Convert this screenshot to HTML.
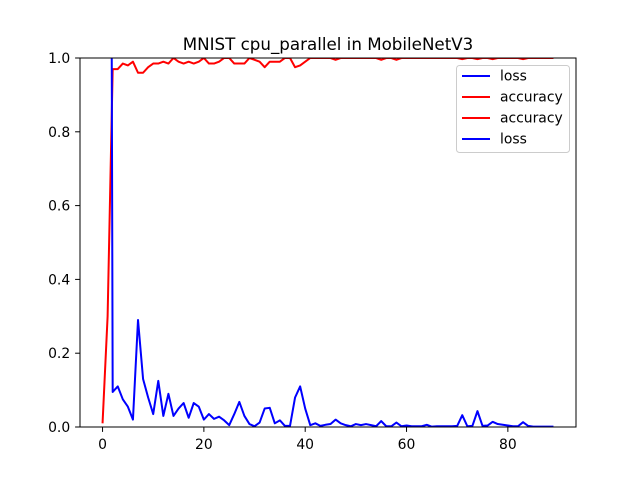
<!DOCTYPE html>
<html><head><meta charset="utf-8"><style>
body{margin:0;background:#fff}
svg text{font-family:"DejaVu Sans","Liberation Sans",sans-serif;fill:#000}
</style></head><body>
<svg id="chart" width="640" height="480" xmlns="http://www.w3.org/2000/svg">
<rect width="640" height="480" fill="#fff"/>
<text x="328" y="50" font-size="16.7" text-anchor="middle">MNIST cpu_parallel in MobileNetV3</text>
<g id="plot"></g>
</svg>
<script>
const xTicks=[0,20,40,60,80];
const yTicks=[0.0,0.2,0.4,0.6,0.8,1.0];
const accuracy=[0.01,0.3,0.97,0.97,0.985,0.98,0.99,0.96,0.96,0.975,0.985,0.985,0.99,0.985,1.0,0.99,0.985,0.99,0.985,0.99,1.0,0.985,0.985,0.99,1.0,1.0,0.985,0.985,0.985,1.0,0.995,0.99,0.975,0.99,0.99,0.99,1.0,1.0,0.975,0.98,0.99,1.0,1.0,1.0,1.0,1.0,0.995,1.0,1.0,1.0,1.0,1.0,1.0,1.0,1.0,0.995,1.0,1.0,0.995,1.0,1.0,1.0,1.0,1.0,1.0,1.0,1.0,1.0,1.0,1.0,1.0,0.997,1.0,1.0,0.997,1.0,1.0,0.997,1.0,1.0,1.0,1.0,1.0,0.997,1.0,1.0,1.0,1.0,1.0,1.0];
const loss=[5,5,0.095,0.11,0.075,0.055,0.02,0.29,0.13,0.08,0.035,0.125,0.03,0.09,0.03,0.05,0.065,0.025,0.065,0.055,0.02,0.035,0.022,0.028,0.018,0.005,0.035,0.068,0.03,0.008,0.002,0.012,0.05,0.052,0.01,0.018,0.003,0.003,0.08,0.11,0.05,0.005,0.01,0.003,0.006,0.008,0.02,0.01,0.005,0.002,0.008,0.005,0.008,0.005,0.002,0.016,0.002,0.002,0.012,0.002,0.004,0.002,0.002,0.002,0.006,0.001,0.002,0.002,0.002,0.002,0.003,0.032,0.002,0.003,0.043,0.003,0.004,0.014,0.008,0.006,0.004,0.002,0.002,0.013,0.003,0.001,0.001,0.001,0.001,0.001];
const legendLabels=["loss","accuracy","accuracy","loss"];
const legendColors=["#0000ff","#ff0000","#ff0000","#0000ff"];

const L=80,R=576,T=58,B=427,xmin=-4.45,xmax=93.45;
const sx=v=>L+(v-xmin)/(xmax-xmin)*(R-L);
const sy=v=>B-v*(B-T);
const NS="http://www.w3.org/2000/svg";
const g=document.getElementById('plot');
function mk(t,a,p){const e=document.createElementNS(NS,t);for(const k in a)e.setAttribute(k,a[k]);(p||g).appendChild(e);return e;}
const clip=mk('clipPath',{id:'c'});mk('rect',{x:L,y:T,width:R-L,height:B-T},clip);
function series(arr,color,name){
  const pts=arr.map((v,i)=>sx(i).toFixed(2)+','+sy(v).toFixed(2)).join(' ');
  const p=mk('polyline',{points:pts,fill:'none',stroke:color,'stroke-width':2,'clip-path':'url(#c)','stroke-linejoin':'round'});
  
  
}
series(accuracy,'#ff0000','accuracy-line');
series(loss,'#0000ff','loss-line');
const fr=mk('rect',{x:L,y:T,width:R-L,height:B-T,fill:'none',stroke:'#000','stroke-width':1});


xTicks.forEach(v=>{
  mk('line',{x1:sx(v),x2:sx(v),y1:B,y2:B+4.9,stroke:'#000'});
  const t=mk('text',{x:sx(v),y:B+22,'font-size':13.9,'text-anchor':'middle'});t.textContent=v;
  
  
});
yTicks.forEach(v=>{
  mk('line',{x1:L-4.9,x2:L,y1:sy(v),y2:sy(v),stroke:'#000'});
  const t=mk('text',{x:L-9.8,y:sy(v)+5,'font-size':13.9,'text-anchor':'end'});t.textContent=v.toFixed(1);
  
  
});
const lg=mk('g',{});


mk('rect',{x:456.5,y:65.5,width:113,height:87,rx:3,fill:'#fff','fill-opacity':0.8,stroke:'#ccc'},lg);
legendLabels.forEach((s,i)=>{
  const y=76+i*21;
  mk('line',{x1:462,x2:490,y1:y,y2:y,stroke:legendColors[i],'stroke-width':2},lg);
  const t=mk('text',{x:500,y:y+4.5,'font-size':13.9},lg);t.textContent=s;
  
  
});
</script>
</body></html>
